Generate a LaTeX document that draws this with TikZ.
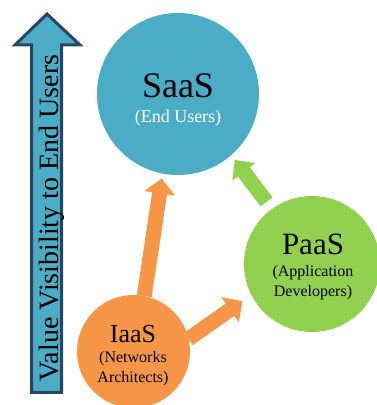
\documentclass[tikz,border=0pt]{standalone}
\usepackage{fontspec}
\setmainfont{Liberation Serif}
\usetikzlibrary{arrows.meta}
\definecolor{saasblue}{HTML}{4BACC6}
\definecolor{paasgreen}{HTML}{92D050}
\definecolor{iaasorange}{HTML}{F79646}
\definecolor{navy}{HTML}{2A4466}
\tikzset{
  cloud/.style={circle, inner sep=0pt, outer sep=0pt, draw=none},
  blockarrow/.style={line width=15pt, -{Triangle[length=15pt, width=30pt]}},
  lbl/.style={anchor=base, inner sep=0pt, text=black},
}
\newcommand{\fs}[1]{\fontsize{#1}{#1}\selectfont}
\begin{document}
\begin{tikzpicture}[x=1pt, y=1pt]
\useasboundingbox (0,0) rectangle (377,405);
% side arrow
\draw[navy, line width=3pt, fill=saasblue, line join=miter]
  (31.5,12.5) -- (31.5,360) -- (15,360) -- (47,391) -- (80,360) -- (61.5,360) -- (61.5,12.5) -- cycle;
\node[lbl, rotate=90] (vis) at (58,187) {\fs{28}Value Visibility to End Users};
% circles
\node[cloud, fill=saasblue, minimum size=162pt] (saas) at (178,311) {};
\node[cloud, fill=paasgreen, minimum size=136pt] (paas) at (312,141) {};
\node[cloud, fill=iaasorange, minimum size=113pt] (iaas) at (133.5,53.5) {};
% arrows
\draw[blockarrow, iaasorange, shorten >=5pt] (iaas.79.5) -- (saas.-101.4);
\draw[blockarrow, iaasorange, shorten >=11pt] (iaas.13.5) -- (paas.207.9);
\draw[blockarrow, paasgreen, -{Triangle[length=15pt, width=28pt]}, shorten <=9pt, shorten >=6pt] (paas.126.6) -- (saas.-49.2);
% labels
\node[lbl] (saast) at (178,307) {\fs{36}SaaS};
\node[lbl, text=white] (saass) at (178,282) {\fs{18}(End Users)};
\node[lbl] (paast) at (313,150) {\fs{31}PaaS};
\node[lbl] (paass1) at (313,128) {\fs{16}(Application};
\node[lbl] (paass2) at (313,108) {\fs{16}Developers)};
\node[lbl] (iaast) at (133,62) {\fs{26}IaaS};
\node[lbl] (iaass1) at (133,42) {\fs{16}(Networks};
\node[lbl] (iaass2) at (133,23) {\fs{16}Architects)};
\end{tikzpicture}
\end{document}
